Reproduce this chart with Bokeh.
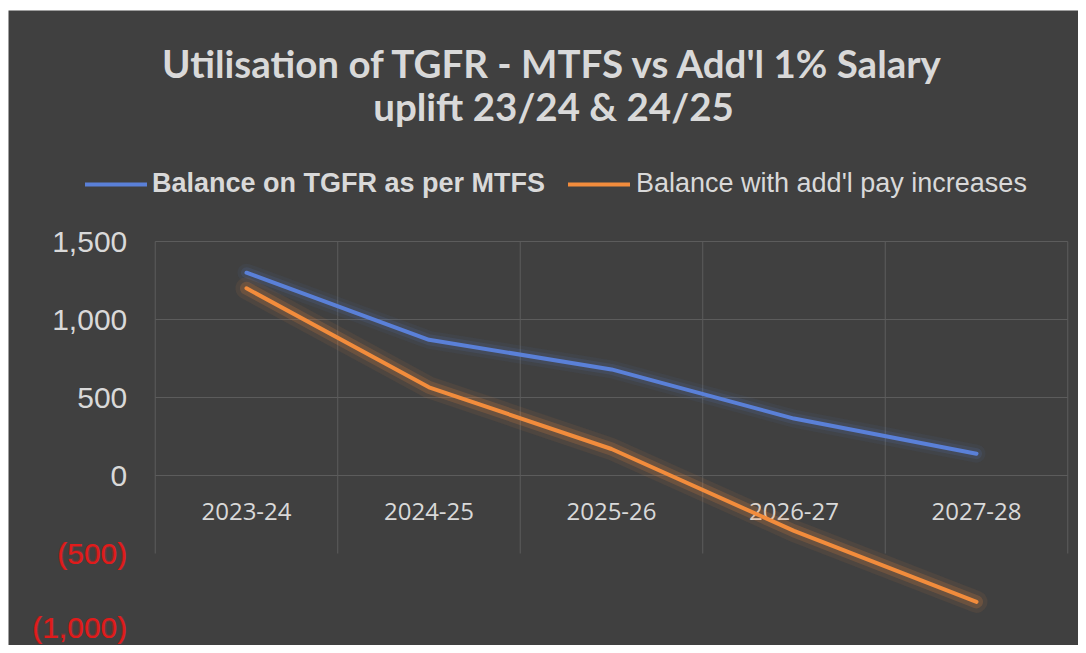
from bokeh.plotting import figure
from bokeh.models import Range1d, Label, Legend, LegendItem
from bokeh.core.properties import value
from bokeh.embed import file_html
from bokeh.resources import INLINE

# ---- data ----
categories = ["2023-24", "2024-25", "2025-26", "2026-27", "2027-28"]
balance_mtfs = [1300, 870, 680, 365, 140]
balance_payrise = [1200, 565, 170, -355, -810]
y_ticks = [1500, 1000, 500, 0, -500, -1000]
y_tick_labels = ["1,500", "1,000", "500", "0", "(500)", "(1,000)"]
grid_ticks = [0, 500, 1000, 1500]
series_names = ["Balance on TGFR as per MTFS", "Balance with add'l pay increases"]
title_lines = ["Utilisation of TGFR - MTFS vs Add'l 1% Salary", "uplift 23/24 & 24/25"]

# ---- styles ----
BG = "#404040"
TXT = "#d9d9d9"
GRID = "#5c5c5c"
BLUE = "#5a80d8"
ORANGE = "#f28c3c"
RED = "#e01b1b"

W, H = 1078, 645
n = len(categories)
xpos = list(range(n))  # category slots on the x scale

# dark frame from px (8,10) to the bottom-right corner; white strip top/left
p = figure(width=W, height=H,
           x_range=Range1d(-1.3041, 4.5589), y_range=Range1d(-1089.7, 2980.8),
           x_axis_location=None, y_axis_location=None,
           output_backend="svg", toolbar_location=None,
           min_border_left=8, min_border_top=10, min_border_right=0,
           min_border_bottom=0)
p.background_fill_color = BG
p.border_fill_color = "white"
p.outline_line_color = None
p.grid.visible = False

left_edge, right_edge = -0.5, n - 0.5

# horizontal grid lines
p.segment(x0=left_edge, y0=grid_ticks, x1=right_edge, y1=grid_ticks,
          line_color=GRID, line_width=1)
# vertical category boundaries
bx = [i - 0.5 for i in range(n + 1)]
p.segment(x0=bx, y0=-500, x1=bx, y1=1500, line_color=GRID, line_width=1)

# y tick labels (the lowest one nudged up so it stays inside the canvas)
y_colors = [TXT if v >= 0 else RED for v in y_ticks]
y_offs = [-4 if v == min(y_ticks) else 0 for v in y_ticks]
neg = [i for i, v in enumerate(y_ticks) if v < 0]
p.text(x=left_edge, y=[y_ticks[i] for i in neg], text=[y_tick_labels[i] for i in neg],
       x_offset=-28, y_offset=[y_offs[i] for i in neg],
       text_align="right", text_baseline="middle",
       text_color=RED, text_alpha=0.3, text_font=value("Liberation Sans"),
       text_font_size="30px", text_font_style="bold")
p.text(x=left_edge, y=y_ticks, text=y_tick_labels, x_offset=-28, y_offset=y_offs,
       text_align="right", text_baseline="middle", text_color=y_colors,
       text_font=value("Liberation Sans"), text_font_size="30px")

# category labels
p.text(x=xpos, y=0, text=categories, y_offset=36,
       text_align="center", text_baseline="middle", text_color=TXT,
       text_font=value("Open Sans"), text_font_size="24px")

# lines with glow
for w, a in [(18, 0.06), (11, 0.12)]:
    p.line(xpos, balance_mtfs, line_color=BLUE, line_width=w, line_alpha=a,
           line_join="round", line_cap="round")
main_b = p.line(xpos, balance_mtfs, line_color=BLUE, line_width=4,
                line_join="round", line_cap="round")
for w, a in [(22, 0.08), (13, 0.18)]:
    p.line(xpos, balance_payrise, line_color=ORANGE, line_width=w, line_alpha=a,
           line_join="round", line_cap="round")
main_o = p.line(xpos, balance_payrise, line_color=ORANGE, line_width=4,
                line_join="round", line_cap="round")


def make_legend(label, renderer, loc, style, standoff):
    return Legend(items=[LegendItem(label=label, renderers=[renderer])],
                  location=loc, orientation="horizontal",
                  padding=0, margin=0, spacing=0,
                  glyph_width=62, glyph_height=30, label_height=30,
                  label_standoff=standoff, label_text_font="Liberation Sans",
                  label_text_font_size="27px", label_text_font_style=style,
                  label_text_color=TXT, label_text_baseline="middle",
                  border_line_color=None, background_fill_alpha=0)


# legend rows centred at px 184 of the picture (frame-relative from bottom)
p.add_layout(make_legend(series_names[0], main_b, (77, 446), "bold", 5))
p.add_layout(make_legend(series_names[1], main_o, (560, 446), "normal", 6))

# title lines centred at px 62 and 105 of the picture
for txt, cy in zip(title_lines, [62, 105]):
    p.add_layout(Label(x=545, y=H - cy, x_units="screen", y_units="screen",
                       text=txt, text_align="center", text_baseline="middle",
                       text_font="Lato", text_font_style="bold",
                       text_font_size="38.5px", text_color=TXT))

open("out.html", "w").write(file_html(p, INLINE))
